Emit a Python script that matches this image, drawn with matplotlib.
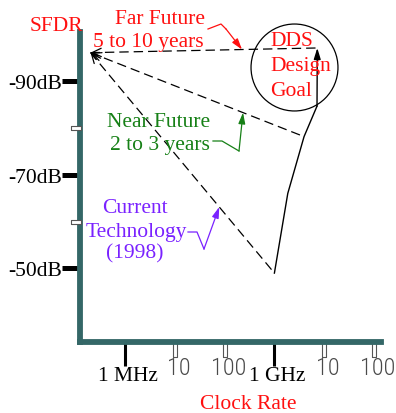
import numpy as np
import matplotlib
matplotlib.use('Agg')
import matplotlib.pyplot as plt
import matplotlib.transforms as mtransforms
from matplotlib.ticker import NullLocator

# ---------------- data ----------------
y_major = [-90, -70, -50]
y_major_labels = ['-90dB', '-70dB', '-50dB']
y_minor = [-80, -60]
x_major = [1e6, 1e9]
x_major_labels = ['1 MHz', '1 GHz']
x_minor = [1e7, 1e8, 1e10, 1e11]
x_minor_labels = ['10', '100', '10', '100']

origin_freq, origin_sfdr = 2.0e5, -96.0
# current technology, near future, far future
target_freq = [1.0e9, 3.95e9, 7.3e9]
target_sfdr = [-49.0, -78.1, -97.0]

# trajectory of achievable performance
path_freq = [1.0e9, 1.86e9, 3.95e9, 7.2e9, 7.3e9]
path_sfdr = [-49.0, -66.0, -78.1, -84.6, -97.0]

goal_freq, goal_sfdr = 2.45e9, -93.0

# ---------------- layout ----------------
W, H, DPI = 396, 414, 100
fig = plt.figure(figsize=(W / DPI, H / DPI), dpi=DPI)
PX = mtransforms.Affine2D().scale(1 / W, -1 / H).translate(0, 1) + fig.transFigure

L, R, T, B = 80, 380.75, 32.75, 342.5
ax = fig.add_axes([L / W, 1 - B / H, (R - L) / W, (B - T) / H])
ax.set_xscale('log')
PX_DEC, X6 = 49.7, 125.3
PY_DB, Y90 = 4.69, 81.8
ax.set_xlim(10 ** (6 + (L - X6) / PX_DEC), 10 ** (6 + (R - X6) / PX_DEC))
ax.set_ylim(-90 + (B - Y90) / PY_DB, -90 + (T - Y90) / PY_DB)
ax.patch.set_alpha(0)

SERIF = ['Liberation Serif', 'DejaVu Serif']
NARROW = ['Liberation Sans Narrow', 'DejaVu Sans Condensed', 'Roboto Condensed',
          'Roboto', 'DejaVu Sans']
FS = 15.5
RED = '#ff1010'
GREEN = '#168016'
PURPLE = '#7a22ff'
TEAL = '#346767'

for s in ['top', 'right']:
    ax.spines[s].set_visible(False)
for s in ['left', 'bottom']:
    ax.spines[s].set_linewidth(4.2)
    ax.spines[s].set_color(TEAL)
    ax.spines[s].set_capstyle('projecting')
    ax.spines[s].set_zorder(3)

# y ticks
ax.set_yticks(y_major, y_major_labels)
ax.yaxis.set_minor_locator(NullLocator())
ax.tick_params(axis='y', which='major', length=13, width=3.6, color='black',
               direction='out', pad=0.2, labelsize=FS)
for lab in ax.get_yticklabels():
    lab.set_fontfamily(SERIF)

# x ticks
ax.set_xticks(x_major, x_major_labels)
ax.set_xticks(x_minor, x_minor_labels, minor=True)
ax.tick_params(axis='x', which='major', length=17, width=2.2, color='black',
               direction='out', pad=1.0, labelsize=FS)
ax.tick_params(axis='x', which='minor', length=0, pad=10.5, labelsize=17.5,
               labelcolor='#4a4a4a')
for lab in ax.get_xticklabels():
    lab.set_fontfamily(SERIF)
shift = mtransforms.ScaledTranslation(3.5 / DPI, 0, fig.dpi_scale_trans)
for lab in ax.get_xticklabels(minor=True):
    lab.set_fontfamily(NARROW)
    lab.set_fontweight('light')
    lab.set_transform(lab.get_transform() + shift)
shift2 = mtransforms.ScaledTranslation(2.5 / DPI, 0, fig.dpi_scale_trans)
for lab in ax.get_xticklabels():
    lab.set_transform(lab.get_transform() + shift2)

# hollow minor ticks
rect_y = [(-9, -1.7), (1, -1.7), (1, 1.7), (-9, 1.7), (-9, -1.7)]
ax.plot(np.zeros(len(y_minor)), y_minor, transform=ax.get_yaxis_transform(),
        ls='none', marker=rect_y, ms=18 * 0.72, mfc='white', mec='#555555',
        mew=0.8, clip_on=False, zorder=4)
rect_x = [(-2, -14.5), (2, -14.5), (2, 0), (-2, 0), (-2, -14.5)]
ax.plot(x_minor, np.zeros(len(x_minor)), transform=ax.get_xaxis_transform(),
        ls='none', marker=rect_x, ms=29 * 0.72, mfc='white', mec='#555555',
        mew=0.8, clip_on=False, zorder=2)

# dashed projection lines with open arrowheads at the origin
def along(f0, d0, f1, d1, t):
    lf = np.log10(f0) + t * (np.log10(f1) - np.log10(f0))
    return 10 ** lf, d0 + t * (d1 - d0)

for f, d in zip(target_freq, target_sfdr):
    ax.plot([origin_freq, f], [origin_sfdr, d], color='black', lw=0.9,
            ls=(0, (7.5, 4)), clip_on=False, zorder=2)
    ax.annotate('', xy=(origin_freq, origin_sfdr),
                xytext=along(origin_freq, origin_sfdr, f, d, 0.03),
                arrowprops=dict(arrowstyle='->,head_length=0.55,head_width=0.25',
                                lw=0.9, color='black', shrinkA=0, shrinkB=0,
                                mutation_scale=12),
                annotation_clip=False)

# solid trajectory with filled arrowhead
ax.plot(path_freq[:-1], path_sfdr[:-1], color='black', lw=1.0, zorder=2)
ax.annotate('', xy=(path_freq[-1], path_sfdr[-1]),
            xytext=(path_freq[-2], path_sfdr[-2]),
            arrowprops=dict(arrowstyle='-|>,head_length=0.55,head_width=0.17',
                            lw=1.0, color='black', shrinkA=0, shrinkB=0,
                            mutation_scale=12),
            annotation_clip=False)

# design-goal circle
ax.plot([goal_freq], [goal_sfdr], marker='o', ms=62.6, mfc='none',
        mec='black', mew=0.9, ls='none', clip_on=False, zorder=2)

# ---------------- texts ----------------
def txt(s, x, y, color, ha='center', size=FS):
    ax.text(x, y, s, transform=PX, color=color, ha=ha, va='baseline',
            fontsize=size, family=SERIF, zorder=5)

txt('SFDR', 56.5, 31.3, RED)
txt('Far Future', 160, 23.5, RED)
txt('5 to 10 years', 148.5, 47, RED)
txt('DDS', 270, 46.5, RED, ha='left')
txt('Design', 270, 71, RED, ha='left')
txt('Goal', 270, 96, RED, ha='left')
txt('Near Future', 158.5, 127.3, GREEN)
txt('2 to 3 years', 160, 150, GREEN)
txt('Current', 134.5, 213, PURPLE)
txt('Technology', 136, 237, PURPLE)
txt('(1998)', 135, 258.5, PURPLE)
txt('Clock Rate', 248, 409.5, RED)

# callout arrows
callouts = [
    ([(208, 30), (221, 25), (226, 30)], 2, 0.668, RED),
    ([(213, 142), (222, 142), (239, 152)], 1, 0.714, GREEN),
    ([(188, 233), (197, 233), (204, 250)], 0, 0.70, PURPLE),
]
for pts, idx, t, col in callouts:
    xs, ys = zip(*pts)
    ax.plot(xs, ys, transform=PX, color=col, lw=0.9, clip_on=False, zorder=4)
    tip = along(origin_freq, origin_sfdr, target_freq[idx], target_sfdr[idx], t)
    ax.annotate('', xy=tip, xycoords='data', xytext=pts[-1], textcoords=PX,
                arrowprops=dict(arrowstyle='-|>,head_length=0.55,head_width=0.17',
                                lw=0.9, color=col, shrinkA=0, shrinkB=0,
                                mutation_scale=12),
                annotation_clip=False)

fig.savefig('out.png', dpi=DPI, facecolor='white')
